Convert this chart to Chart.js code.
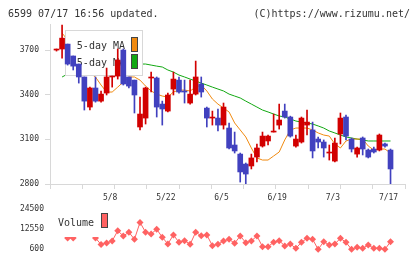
<!DOCTYPE html>
<html>
<head>
<meta charset="utf-8">
<script src="https://cdn.jsdelivr.net/npm/chart.js@4.4.0/dist/chart.umd.min.js"></script>
<style>
  body { margin: 0; background: #fff; width: 420px; height: 259px; overflow: hidden; position: relative; }
  .hdr { position: absolute; top: 8px; font: 10px/12px "DejaVu Sans Mono", monospace; color: #333; white-space: pre; }
  #main { position: absolute; left: 0; top: 0; }
  #vol  { position: absolute; left: 0; top: 198px; }
</style>
</head>
<body>
<canvas id="main" width="420" height="203"></canvas>
<canvas id="vol" width="420" height="61"></canvas>
<div class="hdr" style="left:8px">6599 07/17 16:56 updated.</div>
<div class="hdr" style="right:10px">(C)https://www.rizumu.net/</div>
<script>
// --- data ---
const dates = [
  '4/24','4/25','4/26','4/27','4/28','5/1','5/2','5/3','5/4','5/5',
  '5/8','5/9','5/10','5/11','5/12','5/15','5/16','5/17','5/18','5/19',
  '5/22','5/23','5/24','5/25','5/26','5/29','5/30','5/31','6/1','6/2',
  '6/5','6/6','6/7','6/8','6/9','6/12','6/13','6/14','6/15','6/16',
  '6/19','6/20','6/21','6/22','6/23','6/26','6/27','6/28','6/29','6/30',
  '7/3','7/4','7/5','7/6','7/7','7/10','7/11','7/12','7/13','7/14',
  '7/17'
];
const dateTicks = ['5/8', '5/22', '6/5', '6/19', '7/3', '7/17'];

const open = [
  3700, 3707, 3740, 3660, 3606, 3519, 3317, 3445, 3357, 3411,
  3519, 3525, 3700, 3519, 3498, 3183, 3243, 3512, 3512, 3337,
  3290, 3438, 3498, 3420, 3344, 3404, 3472, 3310, 3243, 3243,
  3196, 3176, 3062, 3001, 2934, 2921, 2981, 3055, 3089, 3149,
  3196, 3290, 3250, 3055, 3082, 3196, 3163, 3102, 3082, 3008,
  2954, 3136, 3250, 3102, 3001, 3109, 3028, 3035, 3028, 3069,
  3028
];
const high = [
  3707, 3868, 3740, 3660, 3606, 3519, 3451, 3519, 3425, 3579,
  3525, 3707, 3707, 3519, 3498, 3384, 3451, 3552, 3519, 3357,
  3411, 3552, 3519, 3498, 3498, 3626, 3519, 3317, 3290, 3304,
  3344, 3210, 3149, 3008, 2941, 3001, 3069, 3149, 3129, 3270,
  3337, 3337, 3256, 3129, 3250, 3297, 3216, 3116, 3096, 3062,
  3109, 3277, 3263, 3109, 3048, 3116, 3035, 3048, 3136, 3075,
  3035
];
const low = [
  3693, 3646, 3599, 3566, 3478, 3297, 3297, 3350, 3350, 3398,
  3451, 3505, 3465, 3445, 3277, 3163, 3203, 3418, 3250, 3196,
  3284, 3398, 3411, 3344, 3337, 3398, 3384, 3183, 3196, 3156,
  3169, 3035, 3008, 2813, 2800, 2901, 2948, 3048, 3062, 3149,
  3169, 3243, 3115, 3048, 3075, 3129, 2975, 3042, 2981, 2961,
  2948, 3069, 3096, 3015, 2981, 2995, 2975, 3008, 3022, 3048,
  2800
];
const close = [
  3700, 3780, 3606, 3592, 3519, 3357, 3445, 3357, 3404, 3519,
  3519, 3633, 3472, 3458, 3398, 3270, 3445, 3512, 3317, 3304,
  3398, 3505, 3418, 3418, 3404, 3519, 3418, 3243, 3243, 3196,
  3317, 3042, 3022, 2881, 2867, 2975, 3042, 3122, 3122, 3149,
  3230, 3250, 3122, 3102, 3243, 3216, 3022, 3082, 3042, 3008,
  3075, 3243, 3122, 3035, 3042, 3035, 2981, 3015, 3129, 3055,
  2901
];
const ma5 = [
  null, 3814, 3767, 3700, 3633, 3579, 3545, 3519, 3465, 3418,
  3418, 3451, 3485, 3519, 3519, 3498, 3458, 3425, 3404, 3391,
  3384, 3418, 3431, 3431, 3425, 3451, 3465, 3425, 3371, 3337,
  3310, 3284, 3210, 3163, 3116, 3042, 2975, 2961, 2961, 2988,
  3015, 3096, 3163, 3176, 3176, 3176, 3163, 3143, 3129, 3122,
  3069, 3042, 3089, 3102, 3102, 3102, 3055, 3028, 3035, 3035,
  3008
];
const ma25 = [
  null, 3519, 3539, 3559, 3572, 3586, 3592, 3599, 3606, 3606,
  3613, 3613, 3613, 3613, 3613, 3606, 3606, 3599, 3592, 3586,
  3566, 3552, 3532, 3519, 3505, 3492, 3478, 3465, 3451, 3438,
  3425, 3404, 3391, 3378, 3357, 3337, 3317, 3297, 3284, 3270,
  3257, 3250, 3237, 3223, 3216, 3210, 3203, 3190, 3176, 3156,
  3143, 3129, 3116, 3109, 3102, 3096, 3089, 3089, 3089, 3089,
  3089
];
const volume = [
  10000, 11000, 7200, 7200, 10200, 11000, 10000, 7200, 3300, 4200,
  5400, 11500, 8400, 10600, 6400, 16500, 10600, 9600, 12400, 7600,
  3600, 9000, 4600, 5600, 3400, 10600, 8500, 9000, 2600, 3400,
  5400, 6400, 4000, 8400, 4400, 5400, 8400, 2000, 2000, 4600,
  5600, 2400, 3600, 1000, 4600, 7000, 6400, 400, 5000, 3000,
  3600, 7000, 4600, 400, 1600, 1000, 3000, 1000, 1000, 400,
  5000
];
const priceTicks = [2800, 3100, 3400, 3700];
const volTicks = [600, 12550, 24500];

// --- look ---
const RED = '#d20000', BLUE = '#4141bf';
const ORANGE = '#f08a10', GREEN = '#12a812', VOLC = '#ff6262';
const AXIS = '#d8d8d8', TXT = '#333';
const FONT = '"DejaVu Sans Mono", monospace';
const xMin = -1.17, xMax = 62.6;

const pts = arr => arr.map((v, i) => ({ x: i, y: v }));
const candleColor = close.map((c, i) => c >= open[i] ? RED : BLUE);
const fixTicks = list => s => { s.ticks = list.map(v => ({ value: v })); };
const plain = v => String(v);

const swatch = (ctx, x, y, w, h, color) => {
  ctx.fillStyle = color;
  ctx.fillRect(x, y, w, h);
  ctx.strokeStyle = '#444';
  ctx.lineWidth = 1;
  ctx.strokeRect(x + 0.5, y + 0.5, w - 1, h - 1);
};

// legend box sits above the MA lines but under the candles
const maLegend = {
  id: 'maLegend',
  beforeDatasetDraw(chart, args) {
    if (args.index !== 2) return;
    const ctx = chart.ctx;
    const ds = chart.data.datasets;
    ctx.save();
    ctx.fillStyle = '#fff';
    ctx.fillRect(65, 30, 78, 46);
    ctx.strokeStyle = AXIS;
    ctx.lineWidth = 1;
    ctx.strokeRect(65.5, 30.5, 77, 45);
    ctx.font = '10px ' + FONT;
    ctx.fillStyle = TXT;
    ctx.textAlign = 'right';
    ctx.fillText(ds[0].label, 125, 49);
    ctx.fillText(ds[1].label, 125, 66);
    swatch(ctx, 131, 37, 7, 15, ORANGE);
    swatch(ctx, 131, 54, 7, 15, GREEN);
    ctx.restore();
  }
};

// volume label box (canvas starts at page y 198)
const volLegend = {
  id: 'volLegend',
  afterDatasetsDraw(chart) {
    const ctx = chart.ctx;
    ctx.save();
    ctx.fillStyle = '#fff';
    ctx.fillRect(53, 8, 60, 31);
    ctx.font = '10px ' + FONT;
    ctx.fillStyle = TXT;
    ctx.fillText(chart.data.datasets[0].label, 58, 28);
    swatch(ctx, 101, 15, 7, 15, VOLC);
    ctx.restore();
  }
};

new Chart(document.getElementById('main'), {
  type: 'bar',
  data: {
    datasets: [
      { type: 'line', label: '5-day MA', data: pts(ma5), borderColor: ORANGE, borderWidth: 1, pointRadius: 0, order: 3 },
      { type: 'line', label: '25-day MA', data: pts(ma25), borderColor: GREEN, borderWidth: 1, pointRadius: 0, order: 3 },
      { label: 'wick', data: dates.map((_, i) => ({ x: i, y: [low[i], high[i]] })),
        backgroundColor: candleColor, barThickness: 1, grouped: false, order: 2 },
      { label: 'body', data: dates.map((_, i) => ({ x: i, y: [open[i], close[i]] })),
        backgroundColor: candleColor, barThickness: 5, minBarLength: 1, grouped: false, order: 1 }
    ]
  },
  options: {
    responsive: false,
    animation: false,
    devicePixelRatio: 1,
    layout: { padding: { top: 24, right: 15, left: 0, bottom: 0 } },
    plugins: { legend: { display: false }, tooltip: { enabled: false } },
    scales: {
      x: {
        type: 'linear', min: xMin, max: xMax, position: 'bottom', weight: 1, offset: false,
        grid: { display: false, drawTicks: false }, border: { display: false },
        afterBuildTicks: fixTicks(dateTicks.map(d => dates.indexOf(d))),
        ticks: { callback: v => dates[v], font: { family: FONT, size: 8 }, color: TXT,
                 padding: 4, maxRotation: 0, autoSkip: false, labelOffset: -2 },
        afterFit: s => { s.height = 14; }
      },
      x2: {
        type: 'linear', min: 0, max: 11, position: 'bottom', weight: 0, offset: false,
        ticks: { display: false, stepSize: 1 },
        grid: { drawOnChartArea: false, tickLength: 5, color: AXIS, offset: false },
        border: { color: AXIS },
        afterFit: s => { s.height = 5; }
      },
      y: {
        min: 2800, max: 3875,
        afterBuildTicks: fixTicks(priceTicks),
        ticks: { callback: plain, font: { family: FONT, size: 8 }, color: TXT, padding: 6 },
        grid: { drawOnChartArea: false, tickLength: 5, color: AXIS },
        border: { color: AXIS },
        afterFit: s => { s.width = 50; }
      }
    }
  },
  plugins: [maLegend]
});

new Chart(document.getElementById('vol'), {
  type: 'line',
  data: {
    datasets: [{
      label: 'Volume', data: pts(volume), borderColor: VOLC, borderWidth: 1,
      pointStyle: 'rectRot', pointRadius: 3.5, pointBackgroundColor: VOLC, pointBorderWidth: 0, clip: false
    }]
  },
  options: {
    responsive: false,
    animation: false,
    devicePixelRatio: 1,
    layout: { padding: { top: 6, right: 15, left: 0, bottom: 5 } },
    plugins: { legend: { display: false }, tooltip: { enabled: false } },
    scales: {
      x: { type: 'linear', min: xMin, max: xMax, display: false },
      y: {
        min: -2387.5, max: 27487.5,
        afterBuildTicks: fixTicks(volTicks),
        ticks: { callback: plain, font: { family: FONT, size: 8 }, color: TXT, padding: 0 },
        // invisible tick marks only push the labels 6px left of the plot
        grid: { drawOnChartArea: false, drawTicks: true, tickLength: 6, color: 'rgba(0,0,0,0)' },
        border: { display: false },
        afterFit: s => { s.width = 50; }
      }
    }
  },
  plugins: [volLegend]
});
</script>
</body>
</html>
